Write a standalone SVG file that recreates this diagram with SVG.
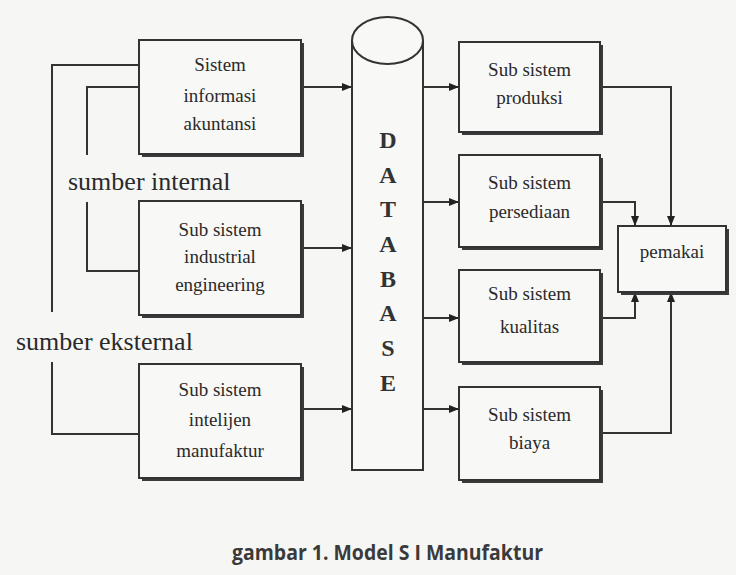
<svg xmlns="http://www.w3.org/2000/svg" width="736" height="575" viewBox="0 0 736 575">
<defs>
<marker id="ah" markerWidth="10" markerHeight="8" refX="10" refY="4" orient="auto" markerUnits="userSpaceOnUse">
<path d="M0,0 L10,4 L0,8 Z" fill="#222"/>
</marker>
<style>
.box{fill:#f8f8f6;stroke:#333;stroke-width:2}
.sh{fill:#3a3a3a}
.t{font-family:"Liberation Serif","Times New Roman",serif;font-size:19px;fill:#2a2a2a;text-anchor:middle}
.db{font-family:"Liberation Serif","Times New Roman",serif;font-size:24px;font-weight:bold;fill:#333;text-anchor:middle}
.lbl{font-family:"Liberation Serif","Times New Roman",serif;font-size:26px;fill:#2a2a2a}
.cap{font-family:"Open Sans","Liberation Sans",sans-serif;font-size:22px;font-weight:700;fill:#3a3a3a}
.c{fill:none;stroke:#333;stroke-width:2}
.a{fill:none;stroke:#333;stroke-width:2;marker-end:url(#ah)}
</style>
</defs>
<rect width="736" height="575" fill="#f6f6f4"/>

<g id="connectors">
<path class="c" d="M139,65 H52 V312"/>
<path class="c" d="M52,362 V434 H139"/>
<path class="c" d="M139,87 H87 V155"/>
<path class="c" d="M87,202 V271 H139"/>
<path class="a" d="M301,87 H352"/>
<path class="a" d="M301,248 H352"/>
<path class="a" d="M301,409 H352"/>
<path class="a" d="M423,87 H459"/>
<path class="a" d="M423,202 H459"/>
<path class="a" d="M423,318 H459"/>
<path class="a" d="M423,409 H459"/>
<path class="a" d="M600,87 H671 V226"/>
<path class="a" d="M600,202 H635 V226"/>
<path class="a" d="M600,318 H635 V292"/>
<path class="a" d="M600,433 H671 V292"/>
</g>

<g id="sia">
<rect class="sh" x="142" y="43" width="162" height="114"/>
<rect class="box" x="139" y="40" width="162" height="114"/>
<text class="t" x="220" y="71">Sistem</text>
<text class="t" x="220" y="102">informasi</text>
<text class="t" x="220" y="130">akuntansi</text>
</g>
<g id="industrial">
<rect class="sh" x="142" y="204" width="162" height="114"/>
<rect class="box" x="139" y="201" width="162" height="114"/>
<text class="t" x="220" y="236">Sub sistem</text>
<text class="t" x="220" y="263">industrial</text>
<text class="t" x="220" y="291">engineering</text>
</g>
<g id="intelijen">
<rect class="sh" x="142" y="367" width="162" height="114"/>
<rect class="box" x="139" y="364" width="162" height="114"/>
<text class="t" x="220" y="396">Sub sistem</text>
<text class="t" x="220" y="426">intelijen</text>
<text class="t" x="220" y="457">manufaktur</text>
</g>

<g id="database">
<path d="M352,40 V470 H423 V40" fill="#f8f8f6" stroke="#333" stroke-width="2"/>
<ellipse cx="387.5" cy="40.5" rx="35.5" ry="23.5" fill="#f8f8f6" stroke="#333" stroke-width="2"/>
<text class="db" x="388" y="148">D</text>
<text class="db" x="388" y="183">A</text>
<text class="db" x="388" y="217">T</text>
<text class="db" x="388" y="252">A</text>
<text class="db" x="388" y="287">B</text>
<text class="db" x="388" y="321">A</text>
<text class="db" x="388" y="356">S</text>
<text class="db" x="388" y="391">E</text>
</g>

<g id="produksi">
<rect class="sh" x="462" y="45" width="141" height="90"/>
<rect class="box" x="459" y="42" width="141" height="90"/>
<text class="t" x="529.5" y="76">Sub sistem</text>
<text class="t" x="529.5" y="104">produksi</text>
</g>
<g id="persediaan">
<rect class="sh" x="462" y="158" width="141" height="92"/>
<rect class="box" x="459" y="155" width="141" height="92"/>
<text class="t" x="529.5" y="189">Sub sistem</text>
<text class="t" x="529.5" y="218">persediaan</text>
</g>
<g id="kualitas">
<rect class="sh" x="462" y="273" width="141" height="92"/>
<rect class="box" x="459" y="270" width="141" height="92"/>
<text class="t" x="529.5" y="300">Sub sistem</text>
<text class="t" x="529.5" y="333">kualitas</text>
</g>
<g id="biaya">
<rect class="sh" x="462" y="390" width="141" height="93"/>
<rect class="box" x="459" y="387" width="141" height="93"/>
<text class="t" x="529.5" y="421">Sub sistem</text>
<text class="t" x="529.5" y="449">biaya</text>
</g>
<g id="pemakai">
<rect class="sh" x="621" y="229" width="108" height="66"/>
<rect class="box" x="618" y="226" width="108" height="66"/>
<text class="t" x="672" y="258">pemakai</text>
</g>

<g id="labels">
<text class="lbl" x="68" y="190">sumber internal</text>
<text class="lbl" x="16" y="350">sumber eksternal</text>
<text class="cap" x="232" y="560" textLength="311" lengthAdjust="spacingAndGlyphs">gambar 1. Model S I Manufaktur</text>
</g>
</svg>
